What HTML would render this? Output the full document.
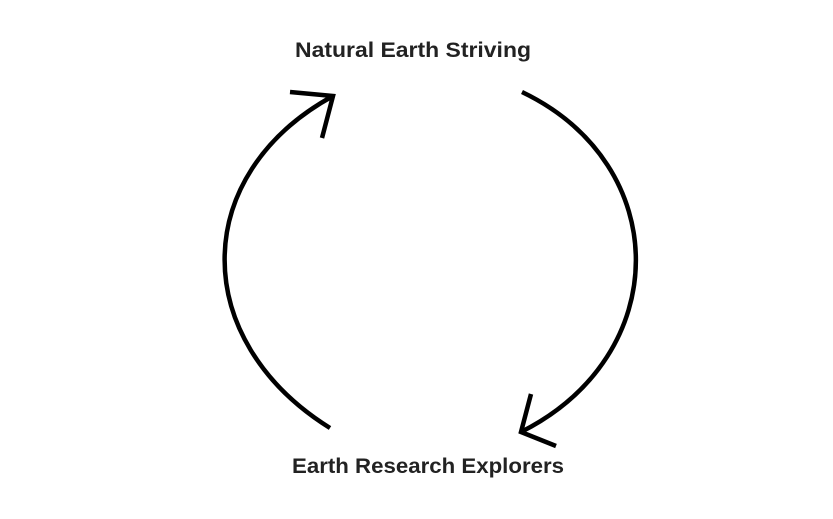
<!DOCTYPE html>
<html><head><style>html,body{margin:0;padding:0;background:#fff;}</style></head>
<body>
<svg width="833" height="514" viewBox="0 0 833 514" xmlns="http://www.w3.org/2000/svg">
<g fill="none" stroke="#000" stroke-width="4.5" stroke-linecap="butt" stroke-linejoin="miter">
<path d="M330,428 C189,340 189,175 333,96"/>
<path d="M290,92 L333,96 L322,138"/>
<path d="M522,92 C674,165 674,355 521,432"/>
<path d="M531,394 L521,432 L556,446"/>
</g>
<g font-family="'Liberation Sans', sans-serif" font-weight="bold" font-size="21" fill="#222">
<text x="295" y="57" textLength="236" lengthAdjust="spacingAndGlyphs">Natural Earth Striving</text>
<text x="292" y="473" textLength="272" lengthAdjust="spacingAndGlyphs">Earth Research Explorers</text>
</g>
</svg>
</body></html>
